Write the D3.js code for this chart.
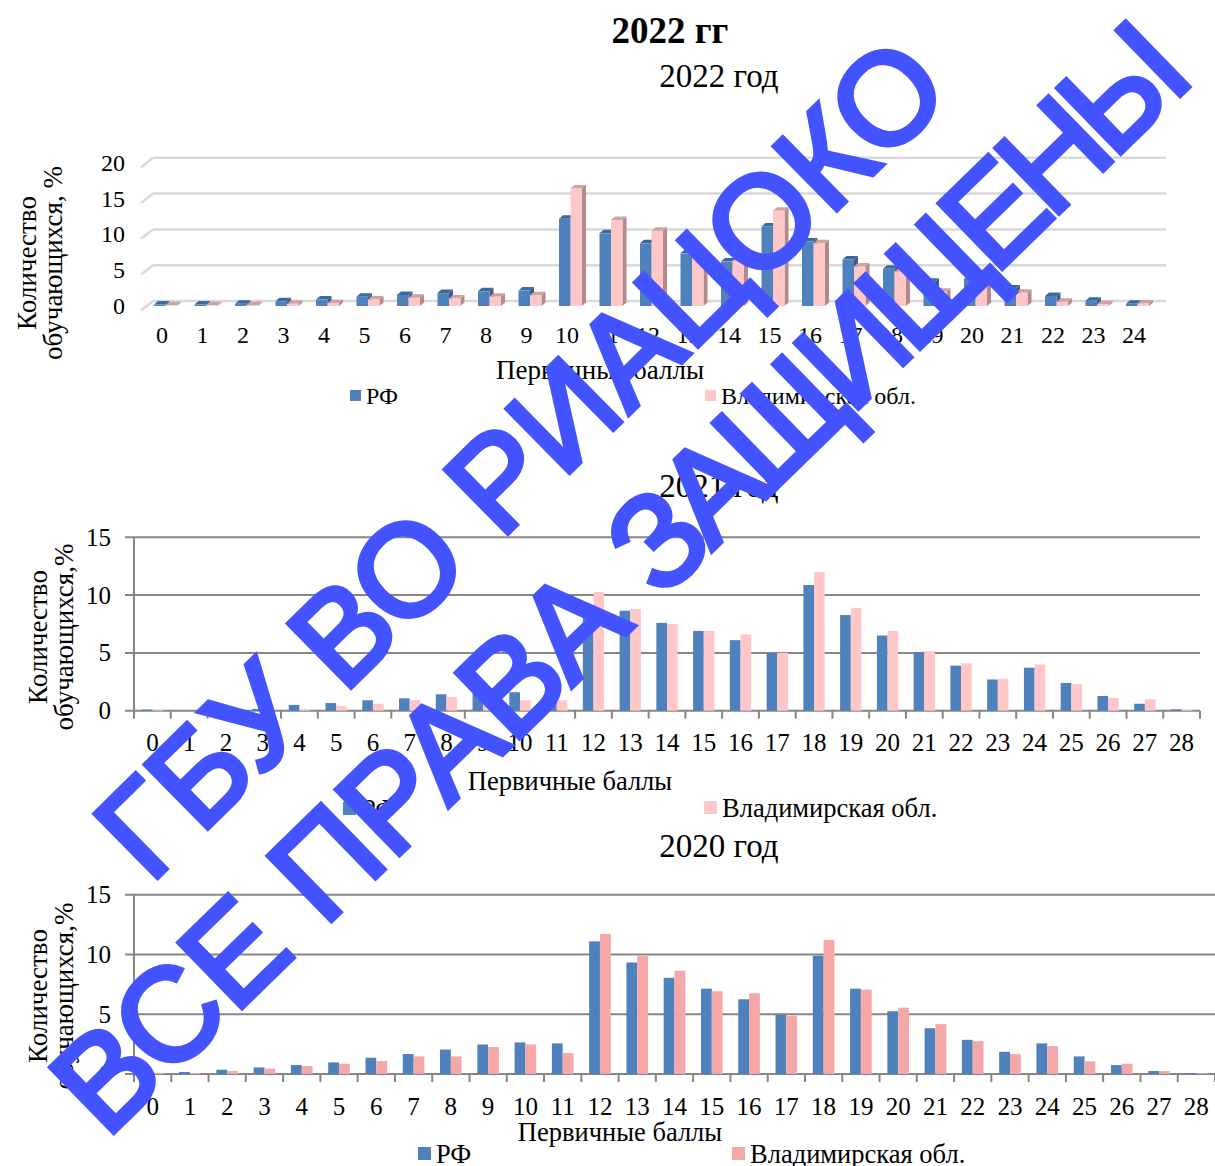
<!DOCTYPE html>
<html><head><meta charset="utf-8">
<script src="https://cdn.jsdelivr.net/npm/d3@7"></script>
<style>
html,body{margin:0;padding:0;background:#fff;}
svg{display:block;}
text{font-family:"Liberation Serif","Times New Roman",serif;fill:#000;}
</style></head>
<body>
<svg id="chart" width="1215" height="1166"></svg>
<script>
// ---------- data ----------
const scores2022 = [0,1,2,3,4,5,6,7,8,9,10,11,12,13,14,15,16,17,18,19,20,21,22,23,24];
const rf2022 = [0.2,0.2,0.3,0.65,0.9,1.3,1.55,1.8,2.05,2.15,12.2,10.15,8.75,7.35,6.2,11.1,9.0,6.5,5.2,3.4,3.85,2.45,1.4,0.75,0.3];
const vl2022 = [0.1,0.1,0.15,0.3,0.4,0.9,1.15,1.05,1.3,1.5,16.4,12.0,10.5,7.4,6.3,13.3,8.75,5.5,4.8,2.0,3.15,1.85,0.6,0.25,0.35];
const yTicks2022 = [0,5,10,15,20];

const scores2021 = [0,1,2,3,4,5,6,7,8,9,10,11,12,13,14,15,16,17,18,19,20,21,22,23,24,25,26,27,28];
const rf2021 = [0.1,0,0.15,0.15,0.5,0.66,0.9,1.07,1.42,1.6,1.6,1.6,9.1,8.65,7.6,6.9,6.1,5.0,10.87,8.28,6.5,5.08,3.9,2.7,3.72,2.4,1.27,0.6,0.12];
const vl2021 = [0.05,0,0.05,0.1,0.15,0.4,0.6,0.9,1.18,1.4,0.9,0.9,10.27,8.8,7.5,6.9,6.6,5.0,12.0,8.9,6.9,5.16,4.1,2.77,4.0,2.3,1.1,0.98,0.08];

const scores2020 = [0,1,2,3,4,5,6,7,8,9,10,11,12,13,14,15,16,17,18,19,20,21,22,23,24,25,26,27,28];
const rf2020 = [0.1,0.17,0.36,0.55,0.75,0.97,1.36,1.67,2.05,2.47,2.64,2.56,11.1,9.33,8.05,7.14,6.25,4.94,9.89,7.14,5.25,3.83,2.86,1.86,2.56,1.47,0.75,0.25,0.08];
const vl2020 = [0.1,0.08,0.25,0.45,0.67,0.86,1.08,1.47,1.47,2.25,2.47,1.75,11.72,9.86,8.64,6.92,6.75,4.89,11.22,7.06,5.55,4.17,2.75,1.67,2.33,1.06,0.86,0.25,0.06];
const yTicks2d = [0,5,10,15];

const seriesNames = ["РФ","Владимирская обл."];
const pageTitle = "2022 гг";
const chartTitles = ["2022 год","2021 год","2020 год"];
const xTitle = "Первичные баллы";
const yTitle1 = "Количество";
const yTitle2a = "обучающихся,  %";
const yTitle2b = "обучающихся,%";
const watermark1 = ["ГБУ ВО РИАЦОКО"];
const watermark2 = ["ВСЕ ПРАВА ", "ЗАЩИЩЕНЫ"];

const BLUE = "#4F81BD", BLUE_TOP = "#3D6A9E", BLUE_SIDE = "#385D8A";
const PINK = "#FFC7C7", PINK_TOP = "#CFA3A3", PINK_SIDE = "#B38989";
const PINK3 = "#F6A8A8";
const WM = "#4253FF";

const svg = d3.select("#chart");

svg.append("text").attr("x",670).attr("y",43).attr("text-anchor","middle")
  .style("font-size","37px").style("font-weight","bold").text(pageTitle);

function yTitle(cx1, cx2, cy, line2, fs){
  svg.append("text").attr("transform",`translate(${cx1},${cy}) rotate(-90)`)
    .attr("text-anchor","middle").attr("dy","0.32em").style("font-size",fs+"px").text(yTitle1);
  svg.append("text").attr("transform",`translate(${cx2},${cy}) rotate(-90)`)
    .attr("text-anchor","middle").attr("dy","0.32em").style("font-size",fs+"px").text(line2);
}
function legend(bx, by, px, py, pinkColor, size, fs, tdy){
  svg.append("rect").attr("x",bx).attr("y",by).attr("width",size).attr("height",size).attr("fill",BLUE);
  svg.append("text").attr("x",bx+size+5).attr("y",by+tdy).style("font-size",fs+"px").text(seriesNames[0]);
  svg.append("rect").attr("x",px).attr("y",py).attr("width",size).attr("height",size).attr("fill",pinkColor);
  svg.append("text").attr("x",px+size+5).attr("y",py+tdy).style("font-size",fs+"px").text(seriesNames[1]);
}

// ---------- Chart 1: 3D (2022) ----------
(function(){
  const g = svg.append("g");
  const x = d3.scaleBand().domain(scores2022).range([141.75,1154.25]).padding(0);
  const y = d3.scaleLinear().domain([0,20]).range([306,162.8]);
  const dx = 4, dy = 3.5, back = 5;
  g.append("text").attr("x",719).attr("y",87).attr("text-anchor","middle").style("font-size","33px").text(chartTitles[0]);
  yTicks2022.forEach(v=>{
    const yb = y(v)-back;
    g.append("line").attr("x1",153).attr("x2",1166).attr("y1",yb).attr("y2",yb)
      .attr("stroke","#D9D9D9").attr("stroke-width",2.5);
    g.append("line").attr("x1",141).attr("x2",153).attr("y1",y(v)+4.4).attr("y2",yb)
      .attr("stroke","#D9D9D9").attr("stroke-width",2.5);
  });
  g.selectAll(".yt").data(yTicks2022).enter().append("text")
    .attr("x",125).attr("y",v=>y(v)+8).attr("text-anchor","end").style("font-size","24px").text(d=>d);
  g.selectAll(".xt").data(scores2022).enter().append("text")
    .attr("x",d=>x(d)+x.bandwidth()/2).attr("y",343).attr("text-anchor","middle").style("font-size","24px").text(d=>d);
  function bar3d(x0, w, v, front, top, side){
    const yt = y(v), yb = y(0);
    g.append("polygon").attr("points",[[x0,yt],[x0+w,yt],[x0+w+dx,yt-dy],[x0+dx,yt-dy]].join(" ")).attr("fill",top);
    g.append("polygon").attr("points",[[x0+w,yt],[x0+w+dx,yt-dy],[x0+w+dx,yb-dy],[x0+w,yb]].join(" ")).attr("fill",side);
    g.append("rect").attr("x",x0).attr("y",yt).attr("width",w).attr("height",Math.max(0,yb-yt)).attr("fill",front);
  }
  scores2022.forEach((s,i)=>{
    const c = x(s)+x.bandwidth()/2;
    bar3d(c-8, 11.5, rf2022[i], BLUE, BLUE_TOP, BLUE_SIDE);
    bar3d(c+3.5, 11.5, vl2022[i], PINK, PINK_TOP, PINK_SIDE);
  });
  g.append("text").attr("x",600).attr("y",379).attr("text-anchor","middle").style("font-size","27px").text(xTitle);
  yTitle(27, 53, 263, yTitle2a, 27);
  legend(350, 390, 705, 390, PINK, 11, 24, 14);
})();

// ---------- 2D charts ----------
function chart2d(opt){
  const g = svg.append("g");
  const x = d3.scaleBand().domain(opt.cats).range([opt.x0, opt.x1]).padding(0);
  const y = d3.scaleLinear().domain([0,15]).range([opt.yb, opt.yt]);
  g.append("text").attr("x",719).attr("y",opt.titleY).attr("text-anchor","middle").style("font-size","33px").text(opt.title);
  yTicks2d.forEach(v=>{
    g.append("line").attr("x1",opt.x0-9).attr("x2",opt.x1).attr("y1",y(v)).attr("y2",y(v))
      .attr("stroke","#868686").attr("stroke-width",2);
  });
  g.append("line").attr("x1",opt.x0).attr("x2",opt.x0).attr("y1",y(15)).attr("y2",y(0)).attr("stroke","#868686").attr("stroke-width",2);
  const bounds = opt.cats.map(c=>x(c)).concat([opt.x1]);
  g.selectAll(".tk").data(bounds).enter().append("line")
    .attr("x1",b=>b).attr("x2",b=>b).attr("y1",y(0)).attr("y2",y(0)+8).attr("stroke","#868686").attr("stroke-width",2);
  g.selectAll(".yt").data(yTicks2d).enter().append("text")
    .attr("x",111).attr("y",v=>y(v)+8.5).attr("text-anchor","end").style("font-size","25px").text(d=>d);
  const bw = x.bandwidth()*0.29;
  g.selectAll(".rf").data(opt.cats).enter().append("rect")
    .attr("x",d=>x(d)+x.bandwidth()/2-bw).attr("y",(d,i)=>y(opt.rf[i])).attr("width",bw)
    .attr("height",(d,i)=>y(0)-y(opt.rf[i])).attr("fill",BLUE);
  g.selectAll(".vl").data(opt.cats).enter().append("rect")
    .attr("x",d=>x(d)+x.bandwidth()/2).attr("y",(d,i)=>y(opt.vl[i])).attr("width",bw)
    .attr("height",(d,i)=>y(0)-y(opt.vl[i])).attr("fill",opt.pink);
  g.selectAll(".xt").data(opt.cats).enter().append("text")
    .attr("x",d=>x(d)+x.bandwidth()/2).attr("y",opt.xlabY).attr("text-anchor","middle").style("font-size","25px").text(d=>d);
  g.append("text").attr("x",opt.xtX).attr("y",opt.xtY).attr("text-anchor","middle").style("font-size","26.5px").text(xTitle);
  yTitle(38, 64, opt.ytY, yTitle2b, 27);
  legend(opt.lg[0],opt.lg[1],opt.lg[2],opt.lg[3],opt.pink,13,26.5,16);
}
chart2d({cats:scores2021, rf:rf2021, vl:vl2021, x0:134, x1:1200, yb:710.7, yt:537.3, title:chartTitles[1], titleY:497,
  xlabY:751, xtX:570, xtY:790, ytY:637, pink:PINK, lg:[343,802,704,801]});
chart2d({cats:scores2020, rf:rf2020, vl:vl2020, x0:134, x1:1215, yb:1074, yt:894.7, title:chartTitles[2], titleY:857,
  xlabY:1115, xtX:620, xtY:1141, ytY:996, pink:PINK3, lg:[418,1147,732,1147]});

// ---------- watermark ----------
const wm = svg.append("g").style("pointer-events","none");
function wmLine(parts, spacings, ox, oy, fs, ang){
  const t = wm.append("text").attr("transform",`translate(${ox},${oy}) rotate(${ang})`)
    .style("font-family","'Liberation Sans',Arial,sans-serif").style("font-size",fs+"px")
    .style("fill",WM).style("stroke",WM).style("stroke-width",5).style("stroke-linejoin","miter");
  parts.forEach((p,i)=>t.append("tspan").style("letter-spacing",spacings[i]+"px").text(p));
}
wmLine(watermark1, [0], 150, 885, 130, -44.5);
wmLine(watermark2, [0,-9], 106, 1140, 132, -44.2);
</script>
</body></html>
